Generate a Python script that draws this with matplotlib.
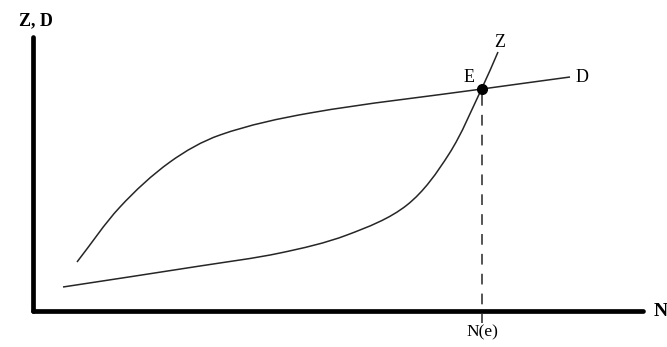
import matplotlib
matplotlib.use("Agg")
import matplotlib.pyplot as plt
import numpy as np
from matplotlib.path import Path
from matplotlib.patches import PathPatch

# curve D (steep then flat)
d_x = [44, 87, 137, 187, 277, 449, 537]
d_y = [49, 104, 149, 176, 198, 222, 234]

# curve Z (flat then steep)
z_x = [30, 167, 247, 314, 374, 416, 449, 465]
z_y = [24, 45, 58, 76, 106, 157, 223, 259]

# equilibrium point E
e_x = 449
e_y = 222


def smooth_path(xs, ys):
    # bezier pieces through the read points, tangent taken from the neighbours
    p = np.column_stack([xs, ys]).astype(float)
    n = len(p)
    tang = []
    for i in range(n):
        a = p[max(i - 1, 0)]
        b = p[min(i + 1, n - 1)]
        t = b - a
        tang.append(t / np.hypot(*t))
    verts = [tuple(p[0])]
    codes = [Path.MOVETO]
    for i in range(n - 1):
        seg = np.hypot(*(p[i + 1] - p[i])) / 3
        verts += [tuple(p[i] + tang[i] * seg), tuple(p[i + 1] - tang[i + 1] * seg), tuple(p[i + 1])]
        codes += [Path.CURVE4] * 3
    return Path(verts, codes)


fig = plt.figure(figsize=(6.67, 3.47), dpi=100)
ax = fig.add_axes([0, 0, 1, 1])
ax.set_xlim(-33, 634)
ax.set_ylim(-36, 311)
ax.set_axis_off()

serif = "Liberation Serif"
lc = "#262626"

# the two axes, thick
ax.plot([0, 0], [0, 274], color="black", linewidth=3.4, solid_capstyle="round")
ax.plot([0, 610], [0, 0], color="black", linewidth=3.4, solid_capstyle="round")

ax.add_patch(PathPatch(smooth_path(d_x, d_y), fill=False, edgecolor=lc, linewidth=1.1))
ax.add_patch(PathPatch(smooth_path(z_x, z_y), fill=False, edgecolor=lc, linewidth=1.1))

# dashed drop line from E to the N axis
ax.plot([e_x, e_x], [e_y - 6, -12], color=lc, linewidth=1.1, dashes=(7, 6))
ax.plot([e_x], [e_y], "o", color="black", markersize=7)

ax.text(3, 290, "Z, D", fontsize=13, fontweight="bold", family=serif, ha="center", va="center")
ax.text(621, 0, "N", fontsize=14, fontweight="bold", family=serif, ha="left", va="center")
ax.text(e_x, -21, "N(e)", fontsize=12.5, family=serif, ha="center", va="center")
ax.text(436, 234, "E", fontsize=13, family=serif, ha="center", va="center")
ax.text(549, 234, "D", fontsize=13, family=serif, ha="center", va="center")
ax.text(467, 269, "Z", fontsize=13, family=serif, ha="center", va="center")

plt.savefig("out.png", dpi=100)
